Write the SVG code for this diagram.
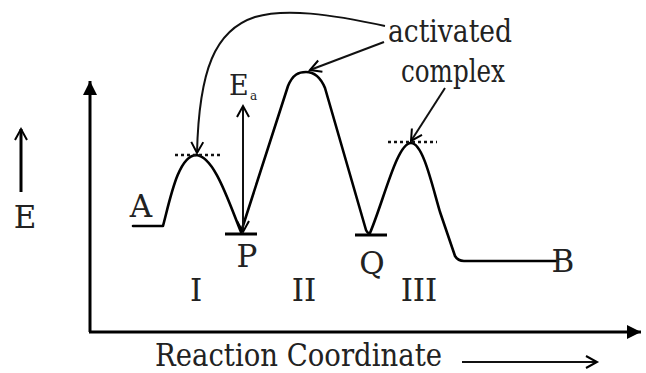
<svg xmlns="http://www.w3.org/2000/svg" width="646" height="373" viewBox="0 0 646 373" font-family="'DejaVu Serif', 'Liberation Serif', serif">
<style>
text{fill:#222}
.lbl{font-size:31px}
.curve{fill:none;stroke:#000;stroke-width:2.6;stroke-linejoin:round;stroke-linecap:round}
.ax{fill:none;stroke:#000;stroke-width:3}
.ptr{fill:none;stroke:#111;stroke-width:2}
.dash{fill:none;stroke:#111;stroke-width:2.5;stroke-dasharray:3 3}
.bar{stroke:#000;stroke-width:3}
</style>
<defs>
<marker id="open" markerUnits="userSpaceOnUse" markerWidth="20" markerHeight="20" refX="12" refY="7" orient="auto">
<path d="M1,1 L12,7 L1,13" fill="none" stroke="#000" stroke-width="2"/>
</marker>
<marker id="openS" markerUnits="userSpaceOnUse" markerWidth="20" markerHeight="20" refX="12" refY="7" orient="auto-start-reverse">
<path d="M1,1 L12,7 L1,13" fill="none" stroke="#000" stroke-width="2"/>
</marker>
<marker id="fill" markerUnits="userSpaceOnUse" markerWidth="20" markerHeight="20" refX="14" refY="7" orient="auto">
<path d="M0,0 L14,7 L0,14 Z" fill="#000"/>
</marker>
</defs>

<g id="axes">
<path class="ax" d="M90,332 V81" marker-end="url(#fill)"/>
<path class="ax" d="M89,332 H641" marker-end="url(#fill)"/>
</g>

<g id="energy-label">
<path class="ax" d="M21,192 V129" marker-end="url(#open)"/>
<text class="lbl" x="25" y="228" text-anchor="middle">E</text>
</g>

<g id="profile">
<path class="curve" d="M133,226 H163 C170,200 178,156 196,155 C214,156 228,200 241,232 L288,86 C293,74 299,72 306,72 C314,72 320,76 325,88 L366,230 Q368,234 370,233 C384,200 397,143 411,143 C423,143 432,185 440,212 L455,256 Q458,261 464,261 H558"/>
</g>

<g id="dashes">
<path class="dash" d="M175,155 H223"/>
<path class="dash" d="M388,142 H437"/>
</g>

<g id="node-A"><text class="lbl" x="141" y="217" text-anchor="middle">A</text></g>
<g id="node-P">
<path class="bar" d="M225,234 H257"/>
<text class="lbl" x="247" y="267" text-anchor="middle">P</text>
</g>
<g id="node-Q">
<path class="bar" d="M355,235 H387"/>
<text class="lbl" x="372" y="274" text-anchor="middle">Q</text>
</g>
<g id="node-B"><text class="lbl" x="563" y="272" text-anchor="middle">B</text></g>

<g id="stages">
<text class="lbl" x="196" y="301" text-anchor="middle">I</text>
<text class="lbl" x="304" y="301" text-anchor="middle">II</text>
<text class="lbl" x="419" y="301" text-anchor="middle">III</text>
</g>

<g id="Ea">
<path class="ptr" d="M243,106 V232" marker-start="url(#openS)" marker-end="url(#open)"/>
<text x="229" y="95" font-size="27">E</text>
<text x="250" y="100" font-size="12">a</text>
</g>

<g id="activated-complex">
<text class="lbl" x="450" y="42" text-anchor="middle" textLength="124" lengthAdjust="spacingAndGlyphs">activated</text>
<text class="lbl" x="453" y="82" text-anchor="middle" textLength="104" lengthAdjust="spacingAndGlyphs">complex</text>
</g>

<g id="connectors">
<path class="ptr" d="M385,26 C330,14 285,8 255,17 C215,30 199,70 197,153" marker-end="url(#open)"/>
<path class="ptr" d="M384,42 L310,70" marker-end="url(#open)"/>
<path class="ptr" d="M445,88 L411,141" marker-end="url(#open)"/>
</g>

<g id="x-label">
<text x="155" y="366" font-size="31" textLength="287" lengthAdjust="spacingAndGlyphs">Reaction Coordinate</text>
<path class="ptr" d="M462,362 H597" stroke-width="2.5" marker-end="url(#open)"/>
</g>
</svg>
